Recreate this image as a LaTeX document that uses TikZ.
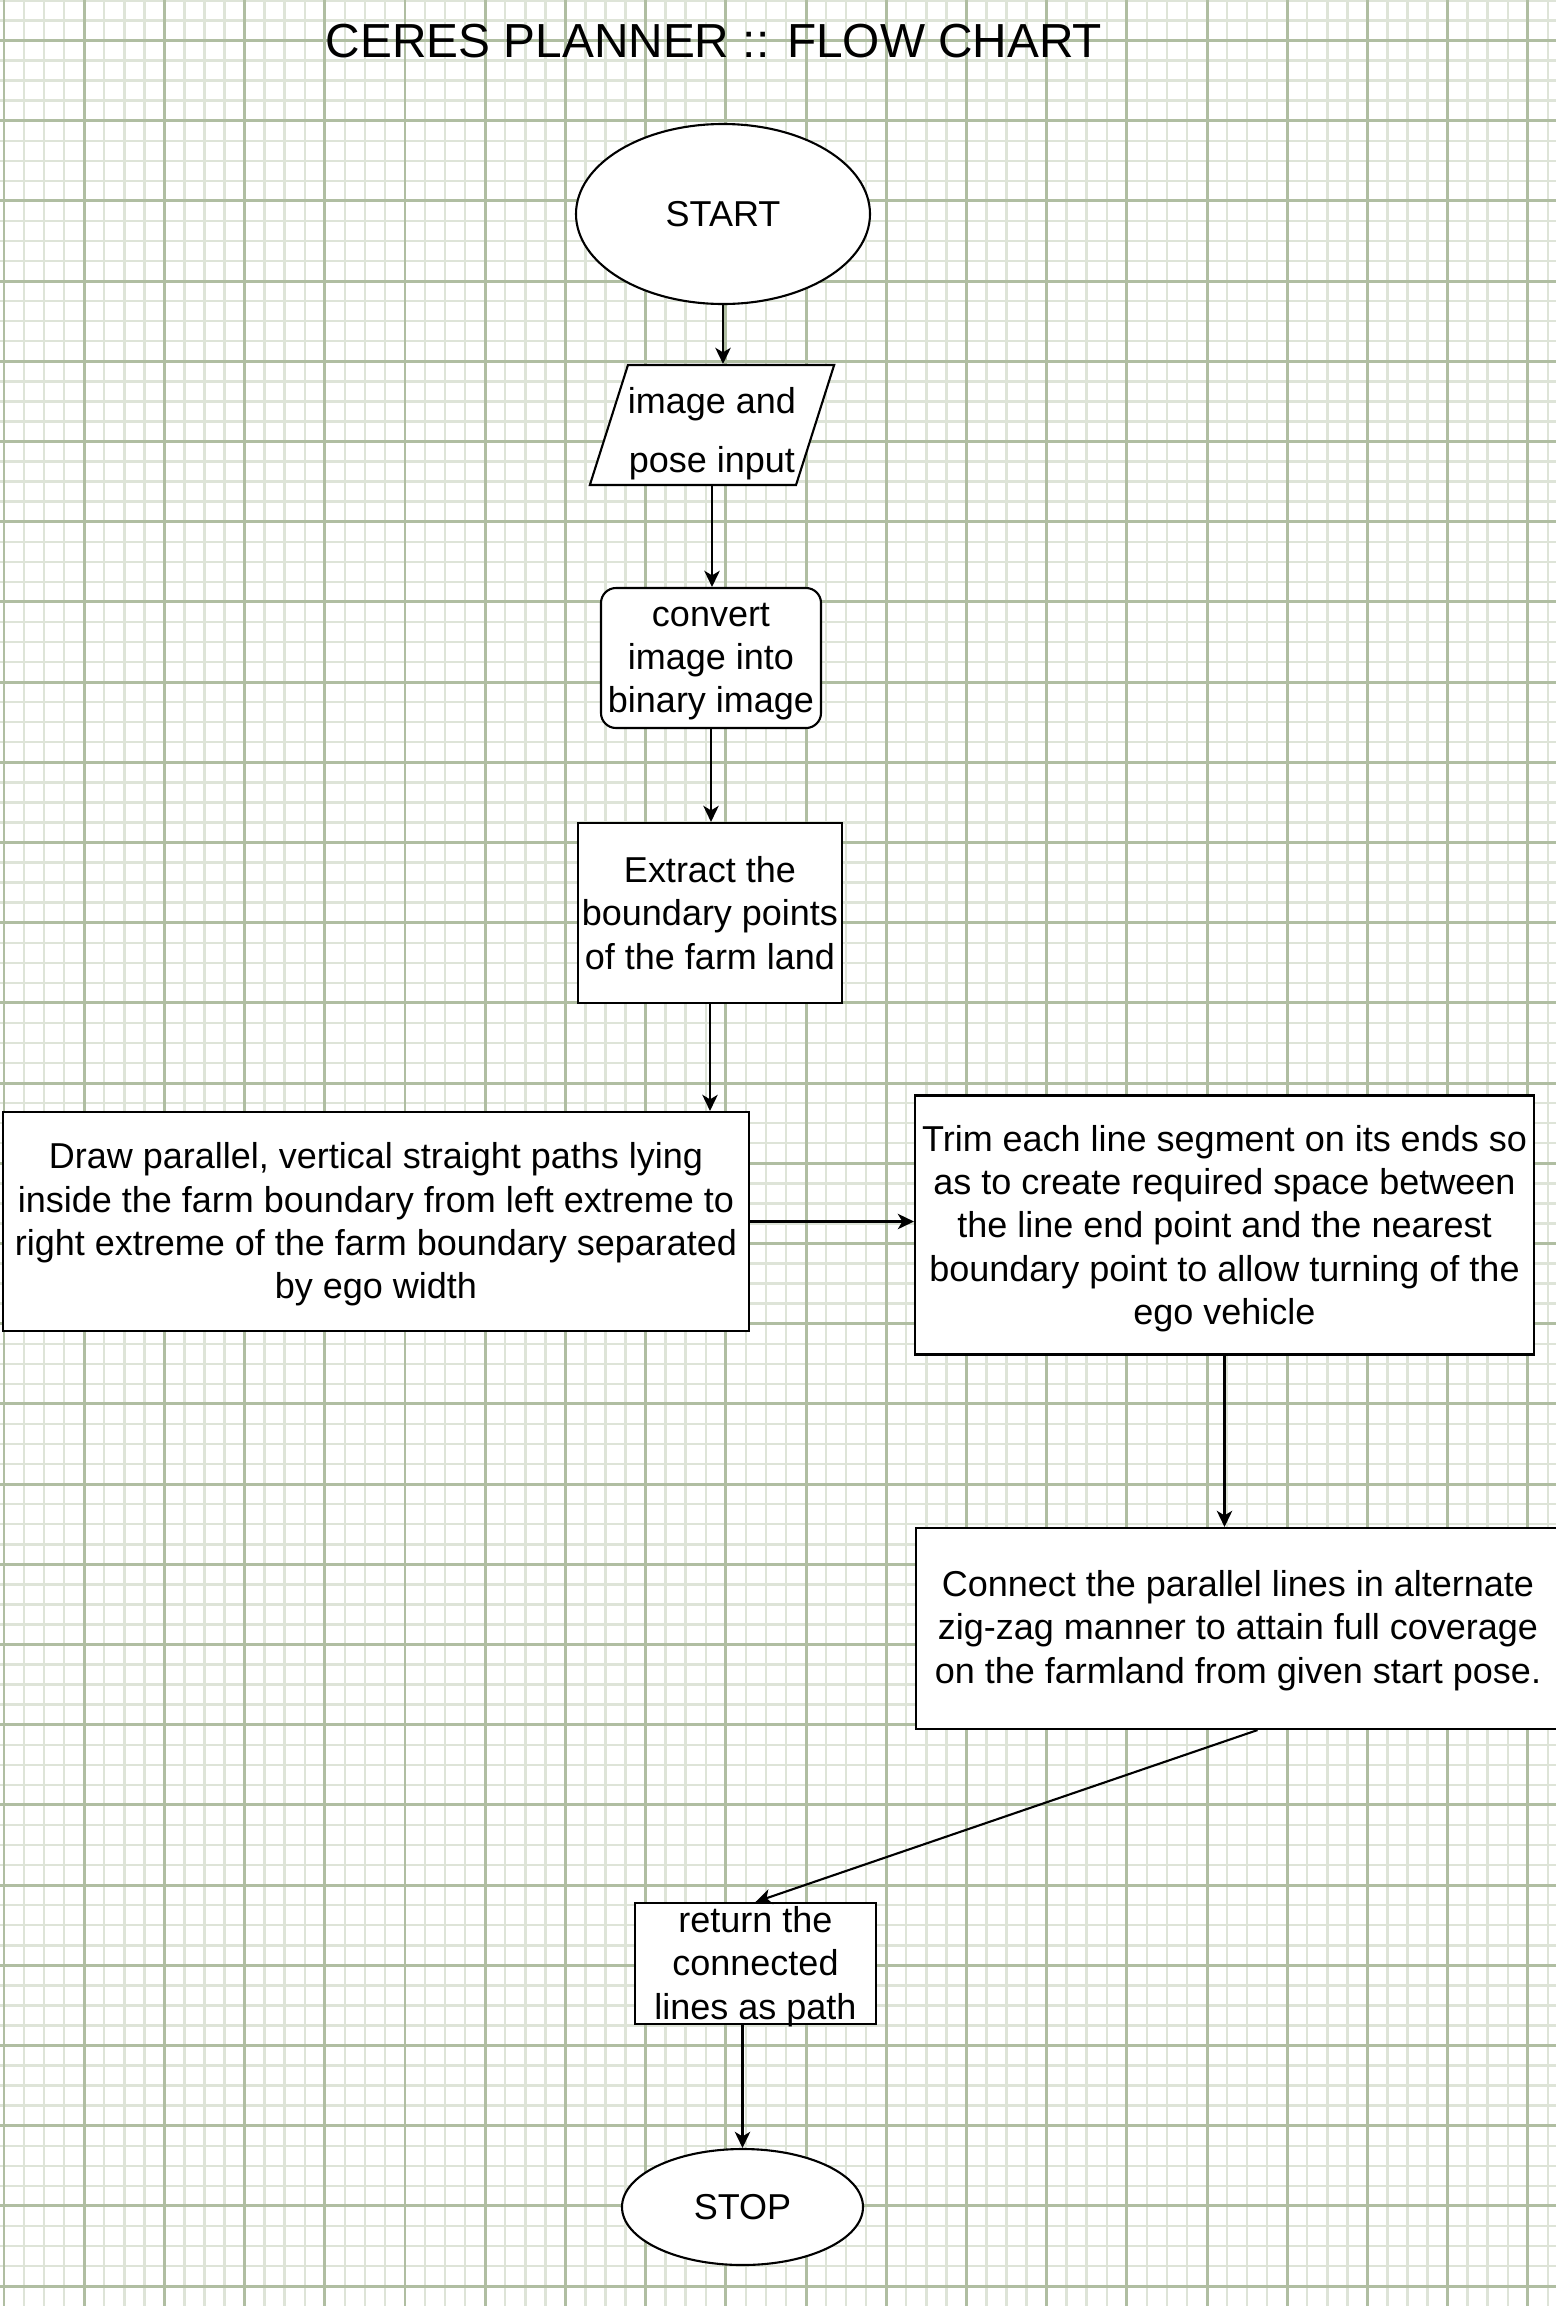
\documentclass[tikz,border=0pt]{standalone}
\usepackage{fontspec}
\setmainfont{Liberation Sans}
\usetikzlibrary{shapes.geometric,arrows.meta,positioning}

\definecolor{gridmajor}{RGB}{176,190,162}
\definecolor{gridminor}{RGB}{222,228,216}

\begin{document}
\begin{tikzpicture}[
        font=\fontsize{10.24pt}{12.3pt}\selectfont,
        box/.style={draw, fill=white, line width=0.6pt, align=center, inner sep=0pt},
        terminal/.style={box, ellipse},
        io/.style={box, trapezium, trapezium left angle=71, trapezium right angle=109,
                trapezium stretches body},
        flow/.style={-{Stealth[length=4.6pt, width=4.4pt, inset=1.3pt]}, line width=0.6pt},
        minorline/.style={gridminor, line width=0.7pt},
        majorline/.style={gridmajor, line width=0.85pt}
    ]
    \useasboundingbox[fill=white] (0,0) rectangle (15.56,-23.06);

    % Grid
    \foreach \k in {0,...,77}
        \draw[minorline] ({(4+20.05*\k)/100},0) -- ++(0,-23.06);
    \foreach \k in {-2,...,112}
        \draw[minorline] (0,{-(40.5+20.05*\k)/100}) -- ++(15.56,0);
    \foreach \k in {0,...,19}
        \draw[majorline] ({(4+80.2*\k)/100},0) -- ++(0,-23.06);
    \foreach \k in {0,...,28}
        \draw[majorline] (0,{-(40.5+80.2*\k)/100}) -- ++(15.56,0);

    % Title
    \node (title) at (7.14,-0.41) {\fontsize{13.6pt}{16pt}\selectfont CERES PLANNER :: FLOW CHART};

    % Steps
    \node[terminal, minimum width=2.94cm, minimum height=1.8cm] (start) at (7.23,-2.14) {START};
    \node[io, minimum width=2.41cm, minimum height=1.2cm] (input) at (7.12,-4.25)
        {\rule{0pt}{0.44cm}image and\\[0.16cm]pose input};
    \node[box, rounded corners=0.15cm, minimum width=2.2cm, minimum height=1.4cm] (binary)
        at (7.11,-6.58) {\rule{0pt}{0.3cm}convert\\image into\\binary image};
    \node[box, minimum width=2.64cm, minimum height=1.8cm] (boundary) at (7.1,-9.13)
        {Extract the\\boundary points\\of the farm land};
    \node[box, minimum width=7.46cm, minimum height=2.19cm] (paths) at (3.76,-12.215)
        {\rule{0pt}{0.32cm}Draw parallel, vertical straight paths lying\\inside the farm boundary from left extreme to\\right extreme of the farm boundary separated\\by ego width};
    \node[box, minimum width=6.19cm, minimum height=2.59cm] (trim) at (12.245,-12.25)
        {\rule{0pt}{0.33cm}Trim each line segment on its ends so\\as to create required space between\\the line end point and the nearest\\boundary point to allow turning of the\\ego vehicle};
    \node[box, minimum width=6.44cm, minimum height=2.01cm] (connect) at (12.38,-16.285)
        {\rule{0pt}{0.3cm}Connect the parallel lines in alternate\\zig-zag manner to attain full coverage\\on the farmland from given start pose.};
    \node[box, inner ysep=-0.1cm, minimum width=2.41cm, minimum height=1.21cm] (path)
        at (7.555,-19.635) {\rule{0pt}{0.32cm}return the\\connected\\lines as path};
    \node[terminal, minimum width=2.41cm, minimum height=1.16cm] (stop) at (7.425,-22.07) {STOP};

    % Arrows
    \draw[flow] (start.south) -- (start.south |- input.north);
    \draw[flow] (input.south) -- (input.south |- binary.north);
    \draw[flow] (binary.south) -- (binary.south |- boundary.north);
    \draw[flow] (boundary.south) -- (boundary.south |- paths.north);
    \draw[flow] (paths.east) -- (paths.east -| trim.west);
    \draw[flow] (trim.south) -- (trim.south |- connect.north);
    \draw[flow] ([xshift=0.195cm]connect.south) -- (path.north);
    \draw[flow] (stop.north |- path.south) -- (stop.north);
\end{tikzpicture}
\end{document}
